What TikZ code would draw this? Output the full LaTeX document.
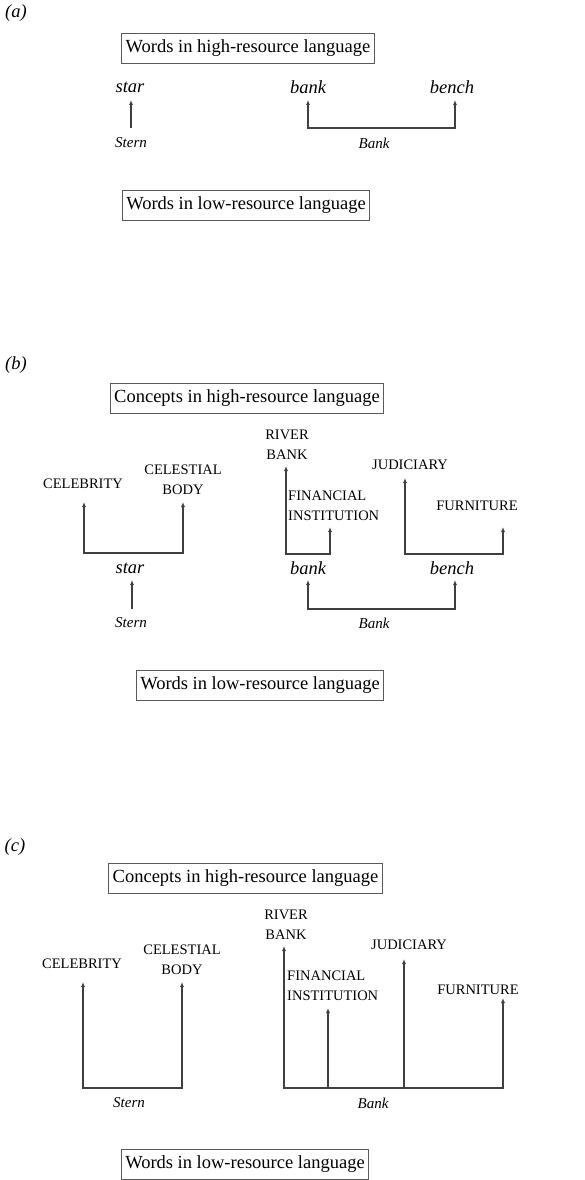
\documentclass[tikz,border=0pt]{standalone}
\usepackage{fontspec}
\setmainfont{Liberation Serif}
\usetikzlibrary{arrows.meta,positioning}

\begin{document}
\begin{tikzpicture}[x=1pt,y=-1pt,
  box/.style={draw=black!65, line width=0.9pt, inner xsep=4pt, minimum height=30pt, font=\fontsize{18.5}{20}\selectfont},
  word/.style={font=\fontsize{18.5}{20}\selectfont\itshape, inner sep=0pt},
  src/.style={font=\fontsize{15}{16}\selectfont\itshape, inner sep=0pt},
  sense/.style={font=\fontsize{14.5}{20}\selectfont, inner sep=0pt, align=center},
  panel/.style={font=\fontsize{18.5}{20}\selectfont\itshape, inner sep=0pt},
  link/.style={line width=1.1pt, black!75, -{Latex[length=5pt,width=4pt]}},
  bilink/.style={line width=1.1pt, black!75, {Latex[length=5pt,width=4pt]}-{Latex[length=5pt,width=4pt]}}]
  \useasboundingbox[fill=white] (0,0) rectangle (585,1180);

  % (a) words only
  \node[panel] (lbla) at (16,13) {(a)};
  \node[box] (hia) at (248,48) {Words in high-resource language};
  \node[word] (stara) at (130,87) {star};
  \node[word] (banka) at (308,87) {bank};
  \node[word] (bencha) at (452,87) {bench};
  \node[src] (sterna) at (131,143) {Stern};
  \node[src] (bnka) at (374,143) {Bank};
  \node[box] (loa) at (246,205) {Words in low-resource language};
  \coordinate (sa0) at (131,128);
  \coordinate (sa1) at (131,100);
  \draw[link] (sa0) -- (sa1);
  \coordinate (ba1) at (308,100);
  \coordinate (ba2) at (455,100);
  \coordinate (baB) at (0,128);
  \draw[bilink] (ba1) -- (ba1 |- baB) -- (ba2 |- baB) -- (ba2);

  % (b) words and their senses
  \node[panel] (lblb) at (16,365) {(b)};
  \node[box] (hib) at (247,398) {Concepts in high-resource language};
  \node[sense] (celb) at (83,484) {CELEBRITY};
  \node[sense] (cstb) at (183,480) {CELESTIAL\\BODY};
  \node[sense] (rivb) at (287,445) {RIVER\\BANK};
  \node[sense, align=left, anchor=west] (finb) at (288,506) {FINANCIAL\\INSTITUTION};
  \node[sense] (judb) at (410,465) {JUDICIARY};
  \node[sense] (furb) at (477,506) {FURNITURE};
  \node[word] (starb) at (130,568) {star};
  \node[word] (bankb) at (308,568) {bank};
  \node[word] (benchb) at (452,568) {bench};
  \node[src] (sternb) at (131,623) {Stern};
  \node[src] (bnkb) at (374,623) {Bank};
  \node[box] (lob) at (260,685) {Words in low-resource language};
  \coordinate (cb1) at (84,502);
  \coordinate (cb2) at (183,502);
  \coordinate (cbB) at (0,553);
  \draw[bilink] (cb1) -- (cb1 |- cbB) -- (cb2 |- cbB) -- (cb2);
  \coordinate (rb1) at (286,466);
  \coordinate (rb2) at (330,527);
  \coordinate (rbB) at (0,554);
  \draw[bilink] (rb1) -- (rb1 |- rbB) -- (rb2 |- rbB) -- (rb2);
  \coordinate (jb1) at (405,478);
  \coordinate (jb2) at (503,527);
  \draw[bilink] (jb1) -- (jb1 |- rbB) -- (jb2 |- rbB) -- (jb2);
  \coordinate (sb0) at (132,609);
  \coordinate (sb1) at (132,580);
  \draw[link] (sb0) -- (sb1);
  \coordinate (bb1) at (308,580);
  \coordinate (bb2) at (455,580);
  \coordinate (bbB) at (0,609);
  \draw[bilink] (bb1) -- (bb1 |- bbB) -- (bb2 |- bbB) -- (bb2);

  % (c) senses straight from the low-resource words
  \node[panel] (lblc) at (15,847) {(c)};
  \node[box] (hic) at (245.5,878) {Concepts in high-resource language};
  \node[sense] (celc) at (82,964) {CELEBRITY};
  \node[sense] (cstc) at (182,960) {CELESTIAL\\BODY};
  \node[sense] (rivc) at (286,925) {RIVER\\BANK};
  \node[sense, align=left, anchor=west] (finc) at (287,986) {FINANCIAL\\INSTITUTION};
  \node[sense] (judc) at (409,945) {JUDICIARY};
  \node[sense] (furc) at (478,990) {FURNITURE};
  \node[src] (sternc) at (129,1103) {Stern};
  \node[src] (bnkc) at (373,1103) {Bank};
  \node[box] (loc) at (245,1164) {Words in low-resource language};
  \coordinate (cc1) at (83,982);
  \coordinate (cc2) at (182,982);
  \coordinate (ccB) at (0,1088);
  \draw[bilink] (cc1) -- (cc1 |- ccB) -- (cc2 |- ccB) -- (cc2);
  \coordinate (rc1) at (284,946);
  \coordinate (fc1) at (328,1008);
  \coordinate (jc1) at (404,959);
  \coordinate (uc1) at (503,998);
  \draw[bilink] (rc1) -- (rc1 |- ccB) -- (uc1 |- ccB) -- (uc1);
  \draw[link] (fc1 |- ccB) -- (fc1);
  \draw[link] (jc1 |- ccB) -- (jc1);
\end{tikzpicture}
\end{document}
